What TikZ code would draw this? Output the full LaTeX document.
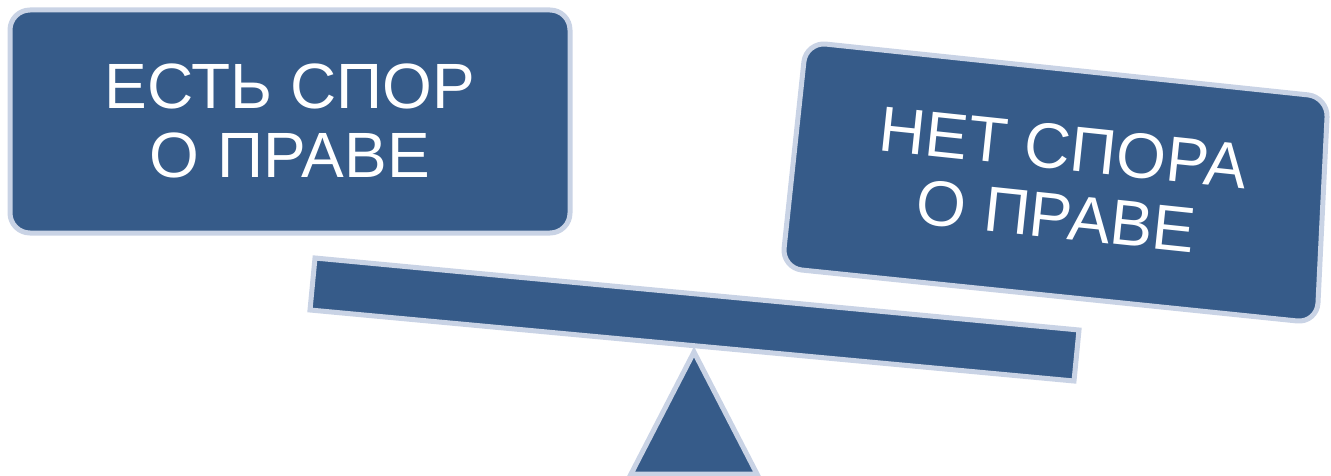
\documentclass[tikz,border=0pt]{standalone}
\usepackage{fontspec}
\setmainfont{Liberation Sans}
\definecolor{boxfill}{HTML}{365B89}
\definecolor{boxedge}{HTML}{C9D3E5}
\tikzset{
  shapebox/.style={fill=boxfill, draw=boxedge, line width=5pt},
  roundbox/.style={shapebox, rounded corners=20pt},
  label/.style={text=white, align=center, inner sep=0pt,
    font=\fontsize{64}{69}\selectfont}
}
\begin{document}
\begin{tikzpicture}[x=1pt,y=-1pt]
\useasboundingbox (0,0) rectangle (1331,476);
% left box
\draw[roundbox] (10,10) rectangle (570,233);
\node[label] (yes) at (290,121) {ЕСТЬ СПОР\\О ПРАВЕ};
% right box (tilted)
\draw[roundbox] (806,42) -- (1328,97) -- (1317,323) -- (782,268) -- cycle;
\node[label, rotate=-6] (no) at (1060,182) {НЕТ СПОРА\\О ПРАВЕ};
% fulcrum
\draw[shapebox, line join=miter] (694,352) -- (757,474) -- (631,474) -- cycle;
% beam
\draw[shapebox, line join=miter] (315,258) -- (1079,330) -- (1074,381) -- (310,310) -- cycle;
\end{tikzpicture}
\end{document}
